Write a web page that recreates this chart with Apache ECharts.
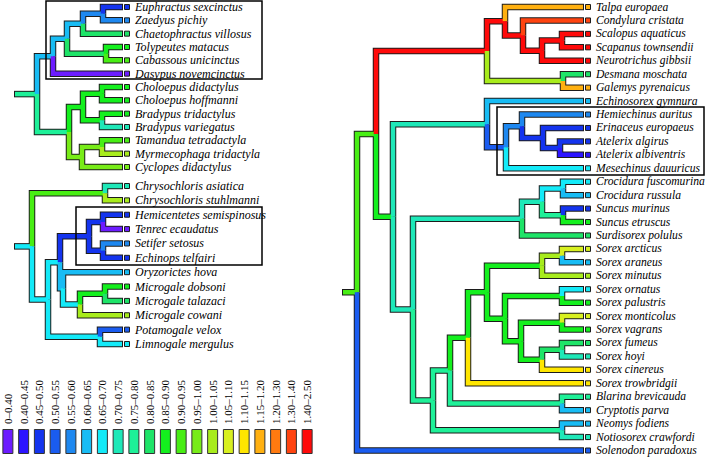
<!DOCTYPE html>
<html><head><meta charset="utf-8">
<script src="https://cdn.jsdelivr.net/npm/echarts@6/dist/echarts.min.js"></script>
<style>html,body{margin:0;padding:0;background:#fff}#c{width:706px;height:458px}</style>
</head><body><div id="c"></div>
<script>
// ---- legend bins ----
const binLabels = ["0–0.40","0.40–0.45","0.45–0.50","0.50–0.55","0.55–0.60","0.60–0.65","0.65–0.70","0.70–0.75","0.75–0.80","0.80–0.85","0.85–0.90","0.90–0.95","0.95–1.00","1.00–1.05","1.05–1.10","1.10–1.15","1.15–1.20","1.20–1.30","1.30–1.40","1.40–2.50"];
const binColors = ["#6c1cff","#2c14ff","#1434ee","#1a5cf0","#1e88f0","#18bcf4","#14eaf8","#1ee8b8","#1ef098","#1ee468","#14f01e","#48ee14","#78ec18","#a8ec1c","#d8f020","#ffe600","#ffb010","#ff7a10","#ff4410","#ff0a0a"];

// ---- trees (Newick: name:branchLength[rateBin]) ----
const armEZ = "(Euphractus sexcinctus:19[2],Zaedyus pichiy:19[4]):20[4]";
const armEuphractinae = "(" + armEZ + ",Chaetophractus villosus:39[9]):16[5]";
const armTolypeutinae = "(Tolypeutes matacus:16[10],Cabassous unicinctus:16[11]):39[9]";
const armadillos = "((" + armEuphractinae + "," + armTolypeutinae + "):14[5],Dasypus novemcinctus:69[0]):16[5]";
const sloths = "((Choloepus didactylus:20[10],Choloepus hoffmanni:20[10]):19[10],(Bradypus tridactylus:20[10],Bradypus variegatus:20[7]):19[10]):14[10]";
const anteaters = "((Tamandua tetradactyla:20[11],Myrmecophaga tridactyla:20[13]):20[12],Cyclopes didactylus:40[12]):13[12]";
const xenarthraTree = "(" + armadillos + ",(" + sloths + "," + anteaters + "):32[8]):22[8]";

const goldenMoles = "(Chrysochloris asiatica:17[7],Chrysochloris stuhlmanni:17[13]):73[11]";
const tenrecinae = "((Hemicentetes semispinosus:19[2],Tenrec ecaudatus:19[0]):14[2],(Setifer setosus:19[4],Echinops telfairi:19[2]):14[2]):29[2]";
const oryzorictinae = "(Oryzorictes hova:59[5],((Microgale dobsoni:17[10],Microgale talazaci:17[9]):25[10],Microgale cowani:42[13]):17[6]):3[5]";
const potamogalinae = "(Potamogale velox:22[3],Limnogale mergulus:22[6]):52[6]";
const afrotheriaTree = "(" + goldenMoles + ",((" + tenrecinae + "," + oryzorictinae + "):12[6]," + potamogalinae + "):16[6]):17[6]";

const talpidae = "((Talpa europaea:78[16],(Condylura cristata:60[18],((Scalopus aquaticus:21[19],Scapanus townsendii:21[19]):20[19],Neurotrichus gibbsii:41[19]):19[19]):18[19]):18[19],(Desmana moschata:20[9],Galemys pyrenaicus:20[16]):76[13]):111[19]";
const erinaceidae = "(Echinosorex gymnura:96[5],((Hemiechinus auritus:61[4],(Erinaceus europaeus:40[2],(Atelerix algirus:23[2],Atelerix albiventris:23[1]):17[2]):21[2]):16[4],Mesechinus dauuricus:77[6]):19[3]):94[7]";
const crocidurinae = "(((Crocidura fuscomurina:20[6],Crocidura russula:20[5]):21[6],(Suncus murinus:20[2],Suncus etruscus:20[10]):21[8]):20[7],Surdisorex polulus:61[9]):109[7]";
const sorexF = "((Sorex fumeus:21[9],Sorex hoyi:21[7]):20[9],Sorex cinereus:41[15]):21[10]";
const sorexE = "((Sorex monticolus:21[14],Sorex vagrans:21[10]):41[10]," + sorexF + "):16[10]";
const sorexD = "((Sorex ornatus:21[6],Sorex palustris:21[10]):57[10]," + sorexE + "):18[10]";
const sorexS2 = "((Sorex arcticus:21[14],Sorex araneus:21[5]):20[13],Sorex minutus:41[13]):55[10]";
const sorex = "((" + sorexS2 + "," + sorexD + "):19[10],Sorex trowbridgii:115[15]):18[10]";
const soricinae = "((" + sorex + ",(Blarina brevicauda:21[8],Cryptotis parva:21[5]):112[8]):17[8],(Neomys fodiens:21[5],Notiosorex crawfordi:21[7]):129[8]):20[8]";
const soricidae = "(" + crocidurinae + "," + soricinae + "):20[7]";
const eulipotyphlaTree = "((" + talpidae + ",(" + erinaceidae + "," + soricidae + "):17[10]):19[11],Solenodon paradoxus:226[3]):14[11]";

function parseNewick(str){
  let i = 0;
  function node(){
    const n = {children:[], name:'', len:0, bin:0};
    if (str[i] === '('){
      i++;
      n.children.push(node());
      while (str[i] === ','){ i++; n.children.push(node()); }
      i++;
    }
    let name = '';
    while (i < str.length && !':,()['.includes(str[i])) name += str[i++];
    n.name = name.trim();
    if (str[i] === ':'){ i++; let num=''; while (i < str.length && /[0-9.]/.test(str[i])) num += str[i++]; n.len = parseFloat(num); }
    if (str[i] === '['){ i++; let b=''; while (str[i] !== ']') b += str[i++]; i++; n.bin = parseInt(b,10); }
    return n;
  }
  return node();
}
function layoutTree(root){
  const leaves = [], edges = [];
  let idx = 0;
  (function setX(n, px){ n.px = px; n.x = px + n.len; n.children.forEach(c => setX(c, n.x)); })(root, 0);
  (function setY(n){
    if (!n.children.length){ n.y = idx++; leaves.push(n); }
    else { n.children.forEach(setY); n.y = (n.children[0].y + n.children[n.children.length-1].y) / 2; }
  })(root);
  (function collect(n, parent){
    // kind: 2 = root stem, 1 = tip branch, 0 = internal branch
    edges.push([n.px, parent ? parent.y : n.y, n.x, n.y, n.bin, parent ? (n.children.length ? 0 : 1) : 2]);
    n.children.forEach(c => collect(c, n));
  })(root, null);
  return {leaves, edges, count: idx};
}

const trees = [xenarthraTree, afrotheriaTree, eulipotyphlaTree].map(s => layoutTree(parseNewick(s)));
const grids = [
  {left:15, top:7, width:107, height:160},
  {left:15, top:186, width:107, height:158},
  {left:343, top:7, width:240, height:443.5},
  {left:0, top:429, width:315, height:25}
];
const labelSizes = [12, 12, 11.6];
const OUT = '#1c1c1c';
const SERIF = 'Liberation Serif';

function edgeShape(api, color, w, outline){
  const p0 = api.coord([api.value(0), api.value(1)]);
  const p1 = api.coord([api.value(0), api.value(3)]);
  const p2 = api.coord([api.value(2), api.value(3)]);
  if (outline && api.value(5) === 1) p2[0] += 1;       // closing edge at the tip end
  if (outline && api.value(5) === 2) { p0[0] -= 1; p1[0] -= 1; } // closing edge at the stem start
  return {type:'polyline', shape:{points:[p0,p1,p2]}, style:{stroke:color, lineWidth:w, fill:null, lineJoin:'miter', lineCap:'butt'}};
}

const series = [];
const xAxis = [], yAxis = [];
trees.forEach((t, gi) => {
  xAxis.push({type:'value', gridIndex:gi, min:0, max:grids[gi].width, show:false});
  yAxis.push({type:'value', gridIndex:gi, min:0, max:t.count-1, inverse:true, show:false});
  series.push({type:'custom', xAxisIndex:gi, yAxisIndex:gi, z:1, clip:false, silent:true, data:t.edges,
    renderItem:(p, api) => edgeShape(api, OUT, 6.5, true)});
  series.push({type:'custom', xAxisIndex:gi, yAxisIndex:gi, z:2, clip:false, silent:true, data:t.edges,
    renderItem:(p, api) => edgeShape(api, binColors[api.value(4)], 4.5, false)});
  series.push({type:'custom', xAxisIndex:gi, yAxisIndex:gi, z:3, clip:false, silent:true,
    data:t.leaves.map(l => [l.x, l.y, l.bin]),
    renderItem:(p, api) => {
      const c = api.coord([api.value(0), api.value(1)]);
      const leaf = t.leaves[p.dataIndex];
      return {type:'group', children:[
        {type:'rect', shape:{x:c[0]+2.5, y:c[1]-2.5, width:5, height:5}, style:{fill:binColors[leaf.bin], stroke:OUT, lineWidth:1}},
        {type:'text', x:c[0]+13, y:c[1], style:{text:leaf.name, fontFamily:SERIF, fontStyle:'italic', fontSize:labelSizes[gi], fill:'#000', align:'left', verticalAlign:'middle'}}
      ]};
    }});
});
// legend
xAxis.push({type:'category', gridIndex:3, position:'top', data:binLabels, axisLine:{show:false}, axisTick:{show:false},
  axisLabel:{rotate:90, margin:5, interval:0, fontFamily:SERIF, fontSize:11, color:'#000'}});
yAxis.push({type:'value', gridIndex:3, min:0, max:1, show:false});
series.push({type:'bar', xAxisIndex:3, yAxisIndex:3, barWidth:11, silent:true,
  data:binColors.map(c => ({value:1, itemStyle:{color:c}})),
  itemStyle:{borderColor:'#333', borderWidth:1}});

const chart = echarts.init(document.getElementById('c'), null, {renderer:'svg'});
chart.setOption({
  animation:false,
  textStyle:{fontFamily:SERIF},
  grid:grids,
  xAxis, yAxis, series,
  graphic:[
    {type:'rect', z:10, shape:{x:46, y:1, width:216, height:78}, style:{fill:null, stroke:'#000', lineWidth:1.5}},
    {type:'rect', z:10, shape:{x:76, y:207, width:186, height:58}, style:{fill:null, stroke:'#000', lineWidth:1.5}},
    {type:'rect', z:10, shape:{x:497, y:107, width:207, height:68}, style:{fill:null, stroke:'#000', lineWidth:1.5}}
  ]
});
</script></body></html>
